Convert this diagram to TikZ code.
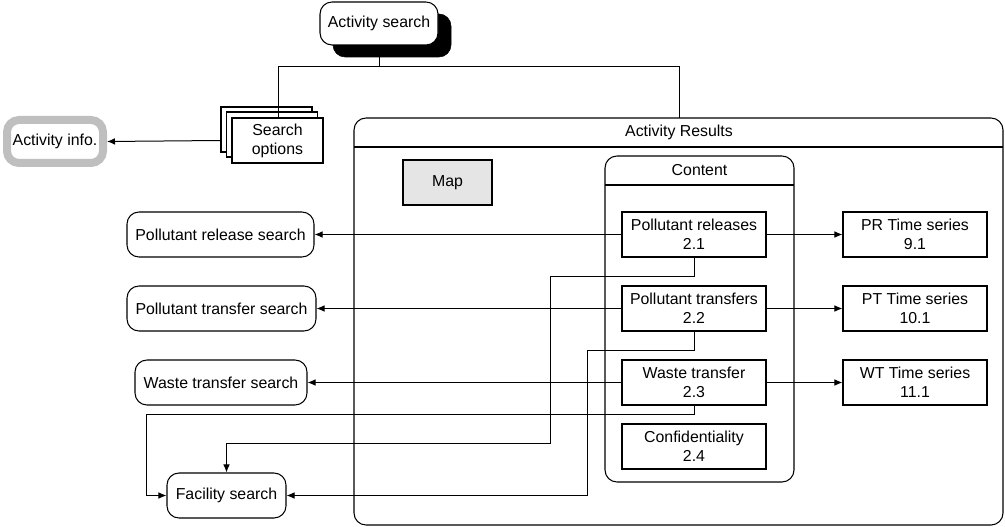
\documentclass[tikz,border=0pt]{standalone}
\usepackage{fontspec}
\setmainfont{Liberation Sans}
\usetikzlibrary{arrows.meta}
\begin{document}
\begin{tikzpicture}[x=0.75pt,y=-0.75pt,
  every node/.style={font=\fontsize{11.9}{14.3}\selectfont},
  box/.style={draw=black,line width=0.8pt,fill=white,align=center,inner sep=1pt,minimum height=33.75pt,minimum width=108pt},
  rbox/.style={box,rounded corners=9pt},
  conn/.style={draw=black,line width=0.75pt},
  arr/.style={conn,-{Latex[length=6pt,width=5pt]}}]
\useasboundingbox (0,0) rectangle (1005,527);
% Activity search with shadow
\node[draw=black,fill=black,rounded corners=9pt,minimum width=88.5pt,minimum height=32.25pt] (asshadow) at (392,35.5) {};
\node[rbox,minimum width=88.5pt,minimum height=32.25pt] (as) at (379,23.5) {Activity search};
% Search options stack
\node[box,minimum width=68.25pt,minimum height=33.75pt] (so2) at (266.5,129.5) {};
\node[box,minimum width=68.25pt,minimum height=33.75pt] (so1) at (272,134.5) {};
\node[box,minimum width=68.25pt,minimum height=33.75pt] (so) at (277.5,140.5) {Search\\options};
% Activity info
\node[draw=black!25,line width=6pt,rounded corners=9pt,fill=white,minimum width=72pt,minimum height=32.25pt,inner sep=1pt] (ai) at (55,141.5) {Activity info.};
% Activity Results container
\draw[line width=0.8pt,rounded corners=9pt] (354,118) rectangle (1003,525);
\draw[line width=0.8pt] (354,147) -- (1003,147);
\node (ar) at (679,132) {Activity Results};
\coordinate (artop) at (679,118);
% Map
\node[box,fill=black!10,minimum width=66.75pt] (map) at (447.5,182.5) {Map};
% Content container
\draw[line width=0.8pt,rounded corners=9pt] (605,156) rectangle (794,482);
\draw[line width=0.8pt] (605,185) -- (794,185);
\node (ct) at (699.5,170) {Content};
% Content items
\node[box] (c1) at (694,234.5) {Pollutant releases\\2.1};
\node[box] (c2) at (694,308.5) {Pollutant transfers\\2.2};
\node[box] (c3) at (694,382.5) {Waste transfer\\2.3};
\node[box] (c4) at (694,446.5) {Confidentiality\\2.4};
% Time series
\node[box] (t1) at (915,234.5) {PR Time series\\9.1};
\node[box] (t2) at (915,308.5) {PT Time series\\10.1};
\node[box] (t3) at (915,382.5) {WT Time series\\11.1};
% Searches
\node[rbox,minimum width=140.25pt] (s1) at (220.5,234.5) {Pollutant release search};
\node[rbox,minimum width=141.75pt] (s2) at (221.5,308.5) {Pollutant transfer search};
\node[rbox,minimum width=129pt] (s3) at (221,382.5) {Waste transfer search};
\node[rbox,minimum width=89.25pt] (fs) at (226.5,495.5) {Facility search};
% Top tree
\coordinate (j) at (asshadow.south -| as.south);
\draw[conn] (as.south |- asshadow.south) -- ++(0,9) coordinate (jj);
\draw[conn] (so.north -| 278,0) |- (jj) -| (artop);
% Arrow to Activity info
\draw[arr] (so2.west |- so.west) -- (ai.east);
% Content to searches / time series
\foreach \c/\s/\t in {c1/s1/t1,c2/s2/t2,c3/s3/t3}{
  \draw[arr] (\c.west) -- (\s.east);
  \draw[arr] (\c.east) -- (\t.west);
}
% To facility search
\draw[arr] (c1.south) -- (694,276) -- (550,276) -- (550,443) -| (fs.north);
\draw[arr] (c2.south) -- (694,350) -- (587,350) |- (fs.east);
\draw[arr] (c3.south) -- (694,414) -- (146,414) |- (fs.west);
\end{tikzpicture}
\end{document}
